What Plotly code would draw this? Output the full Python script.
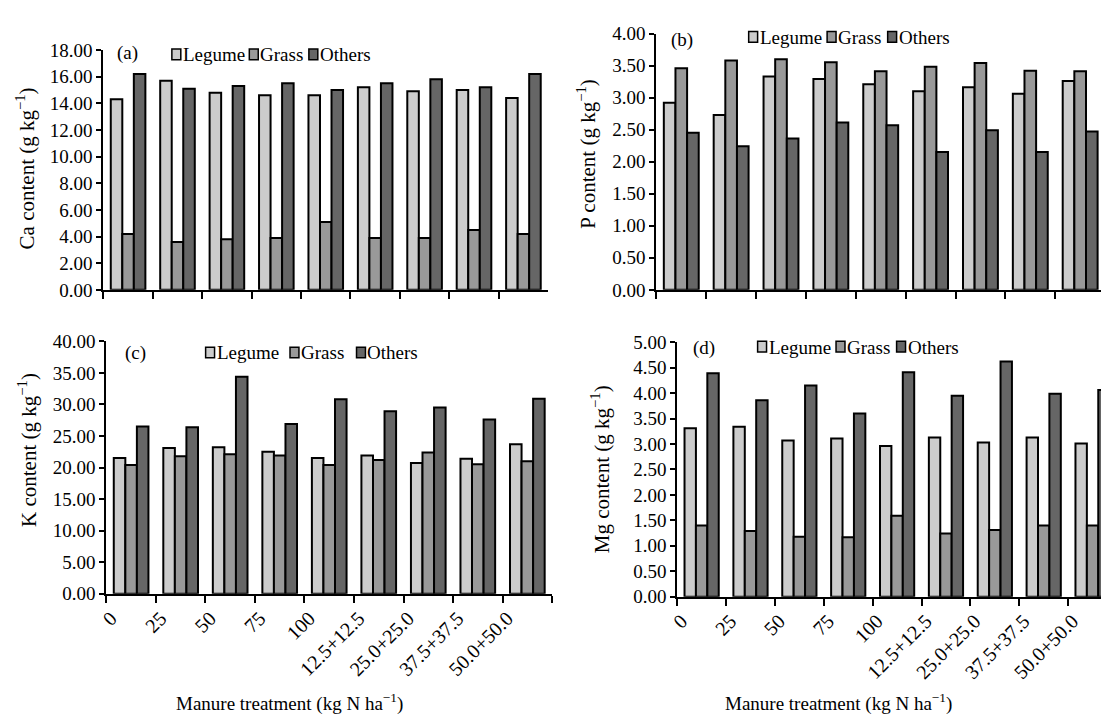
import plotly.graph_objects as go

categories = ["0", "25", "50", "75", "100", "12.5+12.5", "25.0+25.0", "37.5+37.5", "50.0+50.0"]
series_names = ["Legume", "Grass", "Others"]
series_colors = ["#cccccc", "#999999", "#666666"]

ca_legume = [14.3, 15.7, 14.8, 14.6, 14.6, 15.2, 14.9, 15.0, 14.4]
ca_grass = [4.2, 3.6, 3.8, 3.9, 5.1, 3.9, 3.9, 4.5, 4.2]
ca_others = [16.2, 15.1, 15.3, 15.5, 15.0, 15.5, 15.8, 15.2, 16.2]

p_legume = [2.92, 2.73, 3.33, 3.29, 3.21, 3.10, 3.16, 3.06, 3.26]
p_grass = [3.46, 3.58, 3.60, 3.55, 3.41, 3.48, 3.54, 3.42, 3.41]
p_others = [2.45, 2.24, 2.36, 2.61, 2.57, 2.15, 2.49, 2.15, 2.47]

k_legume = [21.5, 23.1, 23.2, 22.5, 21.5, 21.9, 20.7, 21.4, 23.7]
k_grass = [20.4, 21.8, 22.1, 21.9, 20.4, 21.2, 22.4, 20.5, 21.0]
k_others = [26.5, 26.4, 34.4, 26.9, 30.8, 28.9, 29.5, 27.6, 30.9]

mg_legume = [3.31, 3.34, 3.07, 3.11, 2.96, 3.13, 3.03, 3.13, 3.01]
mg_grass = [1.40, 1.29, 1.18, 1.17, 1.59, 1.24, 1.31, 1.40, 1.40]
mg_others = [4.39, 3.86, 4.15, 3.60, 4.41, 3.95, 4.62, 3.99, 4.06]

W, H = 1109, 722
FONT = "Liberation Serif"

def px(x):
    return x / W

def py(y):
    return 1 - y / H

panels = [
    dict(key="", data=[ca_legume, ca_grass, ca_others], xd=(88, 536), yd=(33, 280),
         rng=[0, 18], dtick=2, title="Ca content (g kg<sup>\u22121</sup>)", tx=10, ty=155,
         tag="(a)", tagpos=(100, 36), leg=(157, 38), gap=5, labels=False),
    dict(key="2", data=[p_legume, p_grass, p_others], xd=(645, 1097), yd=(16, 280),
         rng=[0, 4], dtick=0.5, title="P content (g kg<sup>\u22121</sup>)", tx=575, ty=140,
         tag="(b)", tagpos=(658, 23), leg=(738, 20), gap=6, labels=False),
    dict(key="3", data=[k_legume, k_grass, k_others], xd=(91, 540), yd=(333, 593),
         rng=[0, 40], dtick=5, title="K content (g kg<sup>\u22121</sup>)", tx=11, ty=445,
         tag="(c)", tagpos=(108, 345), leg=(191, 345), gap=12, labels=True),
    dict(key="4", data=[mg_legume, mg_grass, mg_others], xd=(666, 1109), yd=(334, 596),
         rng=[0, 5], dtick=0.5, title="Mg content (g kg<sup>\u22121</sup>)", tx=589, ty=465,
         tag="(d)", tagpos=(680, 340), leg=(747, 339), gap=6, labels=True),
]

legend_text_w = {"Legume": 62, "Grass": 44, "Others": 52}

fig = go.Figure()
annotations = []
shapes = []

for p in panels:
    k = p["key"]
    for name, color, vals in zip(series_names, series_colors, p["data"]):
        fig.add_trace(go.Bar(
            x=categories, y=vals, name=name, showlegend=False,
            marker=dict(color=color, line=dict(color="black", width=2)),
            xaxis="x" + k, yaxis="y" + k,
        ))
    xa = dict(
        domain=[px(p["xd"][0]), px(p["xd"][1])], anchor="y" + k,
        type="category", range=[-0.5, 8.5],
        showline=True, linecolor="black", linewidth=2,
        ticks="outside", tickson="boundaries", ticklen=7, tickwidth=2, tickcolor="black",
        showgrid=False, showticklabels=p["labels"], tickangle=-45,
        ticklabelshift=-20, ticklabelstandoff=3,
        tickfont=dict(family=FONT, size=20, color="black"),
    )
    ya = dict(
        domain=[py(p["yd"][1]), py(p["yd"][0])], anchor="x" + k,
        range=p["rng"], dtick=p["dtick"], tick0=0, tickformat=".2f",
        showline=True, linecolor="black", linewidth=2,
        ticks="outside", ticklen=5, tickwidth=2, tickcolor="black",
        showgrid=False, zeroline=False,
        tickfont=dict(family=FONT, size=19, color="black"),
    )
    fig.layout["xaxis" + k] = xa
    fig.layout["yaxis" + k] = ya

    annotations.append(dict(
        text=p["title"], x=px(p["tx"]), y=py(p["ty"]), xref="paper", yref="paper",
        textangle=-90, showarrow=False, xanchor="center", yanchor="middle",
        font=dict(family=FONT, size=21, color="black"),
    ))
    annotations.append(dict(
        text=p["tag"], x=px(p["tagpos"][0]), y=py(p["tagpos"][1]), xref="paper", yref="paper",
        showarrow=False, xanchor="left", yanchor="middle",
        font=dict(family=FONT, size=19, color="black"),
    ))
    # legend
    lx, ly = p["leg"]
    for name, color in zip(series_names, series_colors):
        shapes.append(dict(
            type="rect", xref="paper", yref="paper",
            x0=px(lx), x1=px(lx + 9), y0=py(ly + 5), y1=py(ly - 6),
            fillcolor=color, line=dict(color="black", width=1.5),
        ))
        annotations.append(dict(
            text=name, x=px(lx + 9), y=py(ly), xref="paper", yref="paper",
            showarrow=False, xanchor="left", yanchor="middle",
            font=dict(family=FONT, size=19, color="black"),
        ))
        lx += 11 + legend_text_w[name] + p["gap"]

for cx in (275, 828):
    annotations.append(dict(
        text="Manure treatment (kg N ha<sup>\u22121</sup>)", x=px(cx), y=py(705),
        xref="paper", yref="paper", showarrow=False, xanchor="center", yanchor="middle",
        font=dict(family=FONT, size=19, color="black"),
    ))

fig.update_layout(
    width=W, height=H, margin=dict(l=0, r=0, t=0, b=0),
    paper_bgcolor="white", plot_bgcolor="white",
    barmode="group", bargap=0.3, bargroupgap=0,
    annotations=annotations, shapes=shapes,
    font=dict(family=FONT, color="black"),
)

fig.write_html("out.html")
